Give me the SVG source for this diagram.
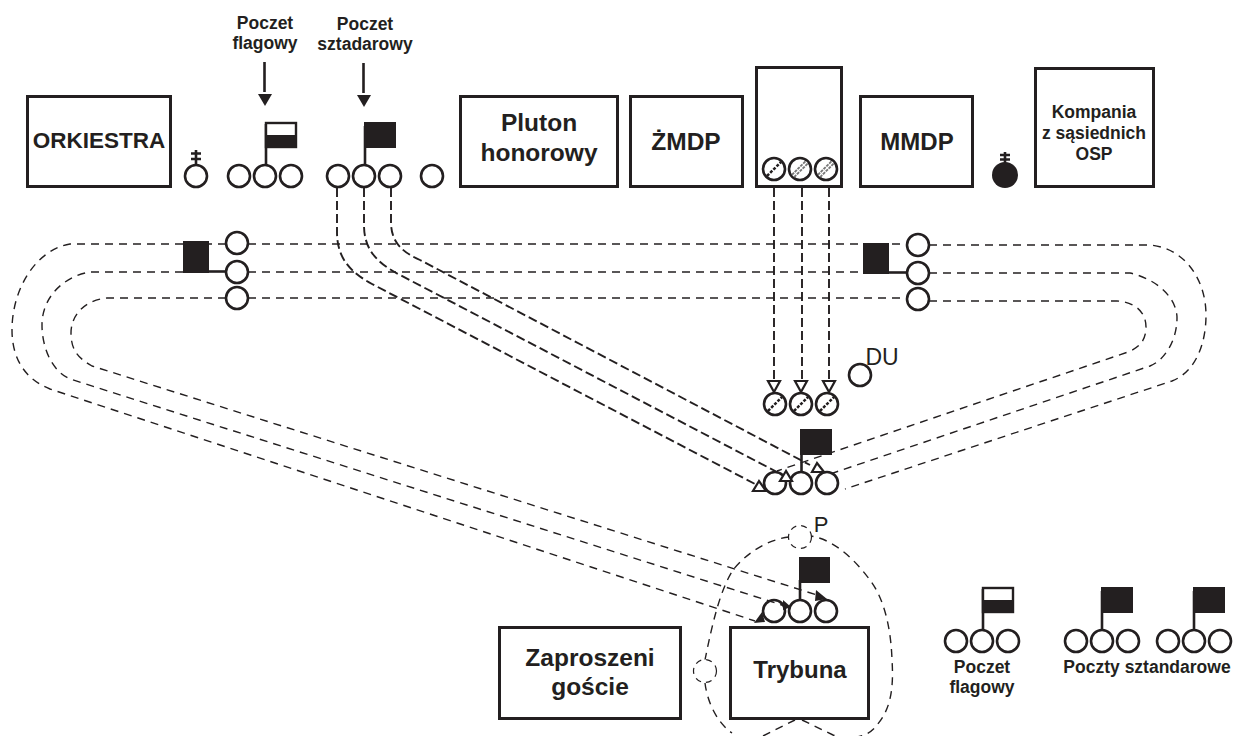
<svg xmlns="http://www.w3.org/2000/svg" width="1236" height="736" viewBox="0 0 1236 736">
<style>
text{font-family:"Liberation Sans",Arial,sans-serif;fill:#231f20;text-anchor:middle}
.b{font-weight:bold}
.box{fill:#fff;stroke:#231f20;stroke-width:3}
.c{fill:#fff;stroke:#231f20;stroke-width:2.6}
.o{fill:none;stroke:#231f20;stroke-width:2.6}
.k{fill:#231f20}
.pole{fill:none;stroke:#231f20;stroke-width:2.6}
.d1{fill:none;stroke:#231f20;stroke-width:1.4;stroke-dasharray:8 6}
.d2{fill:none;stroke:#231f20;stroke-width:1.9;stroke-dasharray:9 4}
.d3{fill:#fff;stroke:#231f20;stroke-width:1.2;stroke-dasharray:6 5}
.tri{fill:#fff;stroke:#231f20;stroke-width:2.2}
.h1{stroke:#231f20;stroke-width:2.5;stroke-dasharray:3 1.5}
.h2{stroke:#777;stroke-width:5;stroke-dasharray:3 1}
.h3{stroke:#fff;stroke-width:1.2}
</style>
<defs>
<g id="trio"><circle class="c" cx="-26" cy="0" r="11"/><circle class="c" cx="0" cy="0" r="11"/><circle class="c" cx="26" cy="0" r="11"/></g>
<g id="flagB"><path class="pole" d="M0 -11V-50"/><rect class="k" x="-1" y="-54" width="32" height="26"/></g>
<g id="flagW"><path class="pole" d="M0 -11V-52"/><rect x="0" y="-53" width="30" height="24" fill="#fff" stroke="#231f20" stroke-width="2.4"/><rect class="k" x="-1" y="-41" width="32" height="13"/></g>
</defs>

<g id="connectors">
<path class="d1" d="M183 244H70C35 250 12 290 12 330C12 355 22 378 50 389L755 621"/>
<path class="d1" d="M183 272H90C65 276 42 296 42 325C42 345 50 370 70 379L785 606"/>
<path class="d1" d="M226 298H107C85 300 71 315 71 333C71 350 78 358 92 366L817 595"/>
<path class="d1" d="M226 244H209M248 244H907M929 245H1150C1185 248 1206 280 1206 315C1206 345 1195 372 1172 381L845 489"/>
<path class="d1" d="M248 272H863M929 273H1130C1160 280 1177 300 1177 318C1177 340 1165 360 1150 366L827 475"/>
<path class="d1" d="M248 298H907M929 301H1117C1135 302 1146 312 1146 327C1146 340 1140 347 1128 352L777 471"/>
<path class="d2" d="M337 188V232C337 258 350 272 372 284L757 485"/>
<path class="d2" d="M364 188V225C364 248 375 262 400 275L777 472"/>
<path class="d2" d="M391 188V222C391 242 402 252 420 260L810 465"/>
<path class="d2" d="M774 188V381M802 188V381M829 188V381"/>
<polygon class="tri" points="768,381 780,381 774,392"/>
<polygon class="tri" points="795,381 807,381 801,392"/>
<polygon class="tri" points="823,381 835,381 829,392"/>
<path class="pole" d="M264.500 62V92M363.500 63V93"/>
<polygon class="k" points="258,94 272,94 265,106"/>
<polygon class="k" points="357,95 371,95 364,107"/>
</g>

<g id="oval"><path class="d1" d="M789 537C765 540 745 555 733 570C720 590 712 625 705 660M705 683C707 700 716 722 732 733M763 736L795 720M802 720L833 735C850 740 868 738 877 725C890 710 894 690 892 660C891 630 885 600 870 580C855 560 835 540 811 536"/>
<circle class="d3" cx="800" cy="537" r="11.500"/>
<circle class="d3" cx="705" cy="671" r="11.500"/>
<text x="821" y="532" font-size="22">P</text></g>

<g id="orkiestra"><rect class="box" x="27.500" y="96.500" width="143" height="90"/><text class="b" x="99" y="148" font-size="22.500">ORKIESTRA</text></g>
<g id="pluton"><rect class="box" x="460.500" y="96.500" width="157" height="90"/><text class="b" x="539" y="131" font-size="24.500">Pluton</text><text class="b" x="539" y="161" font-size="24.500">honorowy</text></g>
<g id="zmdp"><rect class="box" x="630.500" y="96.500" width="112" height="90"/><text class="b" x="686" y="150" font-size="24.500">ŻMDP</text></g>
<g id="kolumna"><rect class="box" x="756.500" y="67.500" width="85" height="119"/>
<circle class="c" cx="774" cy="169" r="11"/><line class="h1" x1="767" y1="176" x2="781" y2="162"/>
<circle class="c" cx="800" cy="169" r="11"/><line class="h2" x1="793" y1="176" x2="807" y2="162"/><line class="h3" x1="793" y1="176" x2="807" y2="162"/>
<circle class="c" cx="826" cy="169" r="11"/><line class="h2" x1="819" y1="176" x2="833" y2="162"/><line class="h3" x1="819" y1="176" x2="833" y2="162"/>
</g>
<g id="mmdp"><rect class="box" x="860.500" y="96.500" width="112" height="90"/><text class="b" x="917" y="150" font-size="24">MMDP</text></g>
<g id="kompania"><rect class="box" x="1035.500" y="68.500" width="118" height="118"/><text class="b" x="1094" y="118" font-size="17.500">Kompania</text><text class="b" x="1094" y="139" font-size="17.500">z sąsiednich</text><text class="b" x="1094" y="160" font-size="17.500">OSP</text></g>

<g id="poczet-label-1"><text class="b" x="265" y="29" font-size="17.500">Poczet</text><text class="b" x="265" y="49" font-size="17.500">flagowy</text></g>
<g id="poczet-label-2"><text class="b" x="365" y="30" font-size="17.500">Poczet</text><text class="b" x="365" y="50" font-size="17.500">sztadarowy</text></g>

<g id="kapelan-1"><path class="pole" d="M196 165V150M191 153.500H201M191 159H201" stroke-width="2"/><circle class="c" cx="196" cy="176" r="11"/></g>
<g id="kapelan-2"><path class="pole" d="M1005 165V152M1000 155H1010M1000 159.500H1010" stroke-width="2"/><circle class="k" cx="1005" cy="175" r="13"/></g>
<g id="poczet-flagowy"><use href="#trio" x="265" y="176"/><use href="#flagW" x="266" y="176"/></g>
<g id="poczet-sztandarowy"><use href="#trio" x="364" y="176"/><use href="#flagB" x="365" y="176"/></g>
<g id="dowodca"><circle class="c" cx="432" cy="176" r="11"/></g>

<g id="grupa-lewa"><circle class="c" cx="237" cy="243" r="11"/><circle class="c" cx="237" cy="272" r="11"/><circle class="c" cx="237" cy="298" r="11"/><rect class="k" x="183" y="241" width="26" height="32"/><path class="pole" d="M209 271.500H226"/></g>
<g id="grupa-prawa"><circle class="c" cx="918" cy="245" r="11"/><circle class="c" cx="918" cy="273" r="11"/><circle class="c" cx="918" cy="299" r="11"/><rect class="k" x="863" y="243" width="26" height="31"/><path class="pole" d="M889 272.500H907"/></g>

<g id="odznaczeni">
<circle class="c" cx="775" cy="404" r="11"/><line class="h1" x1="768" y1="411" x2="782" y2="397"/>
<circle class="c" cx="801" cy="404" r="11"/><line class="h1" x1="794" y1="411" x2="808" y2="397"/>
<circle class="c" cx="827" cy="404" r="11"/><line class="h1" x1="820" y1="411" x2="834" y2="397"/>
</g>
<g id="du"><circle class="c" cx="860" cy="375" r="11"/><text x="882" y="365" font-size="23">DU</text></g>

<g id="poczet-srodek"><circle class="o" cx="775" cy="483" r="11"/><circle class="o" cx="801" cy="483" r="11"/><circle class="o" cx="827" cy="483" r="11"/><path class="pole" d="M801.500 472V450"/><rect class="k" x="800" y="429" width="32" height="26"/></g>
<g id="poczet-trybuna"><circle class="o" cx="774" cy="611" r="11"/><circle class="o" cx="800" cy="611" r="11"/><circle class="o" cx="826" cy="611" r="11"/><path class="pole" d="M800 600V580"/><rect class="k" x="799" y="557" width="31" height="26"/></g>

<g id="zaproszeni"><rect class="box" x="499.500" y="627.500" width="181" height="91"/><text class="b" x="590" y="666" font-size="24.500">Zaproszeni</text><text class="b" x="590" y="695" font-size="24.500">goście</text></g>
<g id="trybuna"><rect class="box" x="730.500" y="627.500" width="138" height="91"/><text class="b" x="800" y="678" font-size="24">Trybuna</text></g>

<g id="legenda-flagowy"><use href="#trio" x="982" y="641"/><use href="#flagW" x="983" y="641"/><text class="b" x="982" y="673" font-size="17.500">Poczet</text><text class="b" x="982" y="693" font-size="17.500">flagowy</text></g>
<g id="legenda-sztandarowe"><use href="#trio" x="1102" y="641"/><use href="#flagB" x="1102" y="641"/><use href="#trio" x="1194" y="641"/><use href="#flagB" x="1194" y="641"/><text class="b" x="1147" y="673" font-size="17.500">Poczty sztandarowe</text></g>

<g id="connector-heads">
<polygon class="tri" points="817,463 812,472 824,472"/>
<polygon class="tri" points="786,471 780,481 792,481"/>
<polygon class="tri" points="759,481 753,491 766,491"/>
<polygon class="k" points="754,623 762,612 765,622"/>
<polygon class="k" points="783,600 791,607 783,610"/>
<polygon class="k" points="816,590 827,599 815,601"/>
</g>
</svg>
